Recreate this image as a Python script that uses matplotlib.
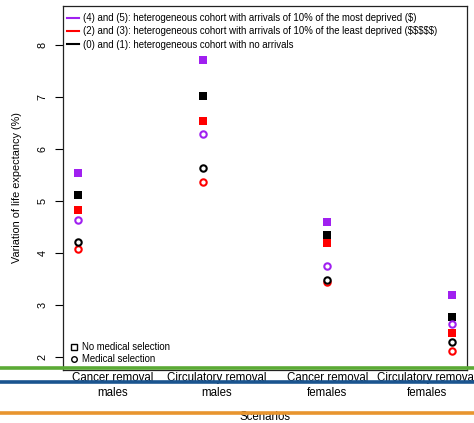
import matplotlib
matplotlib.use("Agg")
import matplotlib.pyplot as plt
from matplotlib.lines import Line2D

# Scenario groups
scenarios = ["Cancer removal\nmales", "Circulatory removal\nmales",
             "Cancer removal\nfemales", "Circulatory removal\nfemales"]
label_pos = [1.28, 2.11, 3.0, 3.8]
x_pos = [1, 2, 3, 4]

# Variation of life expectancy (%) — no medical selection (squares)
most_deprived_nosel = [5.53, 7.72, 4.59, 3.19]
least_deprived_nosel = [4.82, 6.54, 4.19, 2.46]
no_arrivals_nosel = [5.12, 7.03, 4.35, 2.77]
# Medical selection (open circles)
most_deprived_sel = [4.63, 6.29, 3.74, 2.63]
least_deprived_sel = [4.07, 5.36, 3.44, 2.10]
no_arrivals_sel = [4.21, 5.63, 3.47, 2.28]

series_labels = [
    "(4) and (5): heterogeneous cohort with arrivals of 10% of the most deprived ($)",
    "(2) and (3): heterogeneous cohort with arrivals of 10% of the least deprived ($$$$$)",
    "(0) and (1): heterogeneous cohort with no arrivals",
]
PURPLE = "#A020F0"
RED = "#FF0000"
BLACK = "#000000"

plt.rcParams["font.family"] = ["Liberation Sans", "DejaVu Sans"]

fig = plt.figure(figsize=(4.74, 4.23), dpi=100)
W, H = 474, 423
ax = fig.add_axes([63 / W, 1 - 370 / H, (467 - 63) / W, (370 - 6) / H])

for vals, col in [(most_deprived_nosel, PURPLE), (least_deprived_nosel, RED),
                  (no_arrivals_nosel, BLACK)]:
    ax.plot(x_pos, vals, ls="none", marker="s", ms=5.2, mfc=col, mec=col, mew=0)
for vals, col in [(most_deprived_sel, PURPLE), (least_deprived_sel, RED),
                  (no_arrivals_sel, BLACK)]:
    ax.plot(x_pos, vals, ls="none", marker="o", ms=4.6, mfc="white", mec=col, mew=1.5)

ax.set_xlim(0.88, 4.12)
ax.set_ylim(1.74, 8.76)
ax.set_yticks([2, 3, 4, 5, 6, 7, 8])
ax.set_yticklabels(["2", "3", "4", "5", "6", "7", "8"], rotation=90, va="center",
                   fontsize=7.8)
ax.tick_params(axis="y", length=6, width=0.8, pad=5)
ax.set_xticks(label_pos)
ax.set_xticklabels(scenarios, fontsize=8.3, linespacing=1.35)
ax.tick_params(axis="x", length=0, pad=1.5)
for s in ax.spines.values():
    s.set_linewidth(0.9)
    s.set_color("#222222")

ax.set_ylabel("Variation of life expectancy (%)", fontsize=7.8, labelpad=11)
ax.set_xlabel("Scenarios", fontsize=8.3, labelpad=8.5)

# Cohort legend
handles = [Line2D([], [], color=c, lw=1.5) for c in (PURPLE, RED, BLACK)]
leg1 = ax.legend(handles, series_labels, loc="upper left", frameon=False,
                 fontsize=6.9, handlelength=1.3, handletextpad=0.4,
                 labelspacing=0.33, borderaxespad=0.55, borderpad=0.2,
                 bbox_to_anchor=(-0.008, 1.0))
ax.add_artist(leg1)

# Selection legend
sel_handles = [Line2D([], [], ls="none", marker="s", ms=4, mfc="white", mec="black", mew=1),
               Line2D([], [], ls="none", marker="o", ms=4, mfc="white", mec="black", mew=1)]
ax.legend(sel_handles, ["No medical selection", "Medical selection"], loc="lower left",
          frameon=False, fontsize=6.9, handlelength=1.0, handletextpad=0.4,
          labelspacing=0.25, borderaxespad=0.4, borderpad=0.2)

# Horizontal rules across the bottom of the figure
for ypix, col in [(367.5, "#5BAA35"), (382, "#1A548F"), (413, "#E8952F")]:
    fig.add_artist(Line2D([0.0, 1.0], [1 - ypix / H, 1 - ypix / H],
                          transform=fig.transFigure, color=col, lw=2.6,
                          solid_capstyle="round"))

fig.savefig("out.png", dpi=100)
